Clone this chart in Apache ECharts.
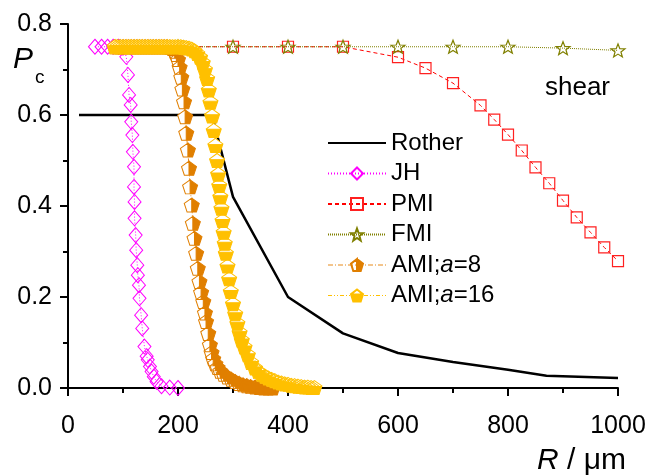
<!DOCTYPE html>
<html>
<head>
<meta charset="utf-8">
<script src="https://cdn.jsdelivr.net/npm/echarts@6/dist/echarts.min.js"></script>
<style>
  html, body { margin: 0; padding: 0; background: #fff; }
  #chart { width: 662px; height: 475px; }
</style>
</head>
<body>
<div id="chart"></div>
<script>
// [R (um), Pc]
const rother = [[20, 0.6], [260, 0.6], [265, 0.585], [300, 0.42], [400, 0.2], [500, 0.12],
  [600, 0.077], [700, 0.057], [800, 0.04], [870, 0.027], [1000, 0.022]]

const jh = [[49, 0.75], [61, 0.75], [72, 0.75], [82, 0.75], [92, 0.75], [100, 0.748], [106, 0.728],
  [109, 0.688], [111, 0.644], [114, 0.622], [115, 0.585], [117, 0.556], [118, 0.519], [120, 0.486],
  [120, 0.442], [121, 0.409], [121, 0.373], [123, 0.336], [124, 0.303], [126, 0.27], [127, 0.248],
  [129, 0.226], [130, 0.197], [133, 0.16], [135, 0.131], [139, 0.091], [143, 0.07], [145, 0.062],
  [149, 0.047], [152, 0.036], [156, 0.025], [161, 0.014], [170, 0.004], [185, 0.001], [200, 0]]

const pmi = [[200, 0.75], [300, 0.75], [400, 0.75], [500, 0.75], [600, 0.727], [650, 0.703],
  [700, 0.67], [750, 0.621], [775, 0.59], [800, 0.557], [825, 0.522], [850, 0.485], [875, 0.45],
  [900, 0.412], [925, 0.375], [950, 0.342], [975, 0.309], [1000, 0.279]]

const fmi = [[200, 0.75], [300, 0.75], [400, 0.75], [500, 0.75], [600, 0.75], [700, 0.75],
  [800, 0.75], [900, 0.747], [1000, 0.742]]

const ami8 = [[85, 0.75], [90, 0.75], [95, 0.75], [100, 0.75], [105, 0.75], [110, 0.75], [115, 0.75],
  [120, 0.75], [125, 0.75], [130, 0.75], [135, 0.75], [140, 0.75], [145, 0.75], [150, 0.75],
  [155, 0.75], [160, 0.75], [165, 0.75], [170, 0.75], [175, 0.75], [180, 0.75], [185, 0.749],
  [190, 0.746], [194, 0.74], [197, 0.733], [200, 0.722], [203, 0.705], [206, 0.683], [208, 0.657],
  [211, 0.629], [213, 0.596], [215, 0.56], [218, 0.523], [220, 0.483], [222, 0.442], [225, 0.402],
  [227, 0.362], [230, 0.329], [233, 0.296], [236, 0.263], [239, 0.234], [242, 0.21], [246, 0.19],
  [249, 0.165], [251, 0.146], [255, 0.12], [258, 0.095], [261, 0.078], [264, 0.064], [268, 0.053],
  [272, 0.045], [277, 0.037], [283, 0.03], [290, 0.024], [297, 0.019], [304, 0.014], [311, 0.01],
  [318, 0.007], [325, 0.005], [332, 0.003], [340, 0.002], [348, 0.001], [356, 0], [364, 0], [372, 0]]

const ami16 = [[85, 0.75], [90, 0.75], [95, 0.75], [100, 0.75], [105, 0.75], [110, 0.75], [115, 0.75],
  [120, 0.75], [125, 0.75], [130, 0.75], [135, 0.75], [140, 0.75], [145, 0.75], [150, 0.75],
  [155, 0.75], [160, 0.75], [165, 0.75], [170, 0.75], [175, 0.75], [180, 0.75], [185, 0.75],
  [190, 0.75], [195, 0.75], [200, 0.75], [205, 0.75], [210, 0.749], [215, 0.748], [220, 0.747],
  [225, 0.745], [230, 0.741], [235, 0.735], [240, 0.727], [245, 0.715], [249, 0.7], [253, 0.68],
  [256, 0.655], [259, 0.628], [262, 0.598], [265, 0.566], [268, 0.533], [271, 0.5], [273, 0.47],
  [275, 0.445], [277, 0.42], [279, 0.395], [281, 0.368], [283, 0.342], [285, 0.318], [287, 0.296],
  [290, 0.268], [293, 0.24], [296, 0.212], [300, 0.185], [304, 0.163], [308, 0.142], [312, 0.122],
  [316, 0.105], [321, 0.09], [327, 0.073], [333, 0.056], [340, 0.044], [346, 0.036], [352, 0.03],
  [358, 0.026], [364, 0.022], [370, 0.019], [376, 0.016], [382, 0.013], [388, 0.011], [394, 0.009],
  [400, 0.008], [406, 0.006], [412, 0.005], [418, 0.004], [424, 0.003], [430, 0.002], [436, 0.002],
  [442, 0.001], [448, 0.001]]

const font = 'Liberation Sans, Arial, sans-serif'

// marker shapes
const starPath = 'path://M10 0 L12.47 6.6 L19.51 6.91 L13.99 11.3 L15.88 18.09 L10 14.2 L4.12 18.09 L6.01 11.3 L0.49 6.91 L7.53 6.6 Z'
const pentPath = 'path://M10 0 L19.51 6.91 L15.88 18.09 L4.12 18.09 L0.49 6.91 Z'
// part-filled pentagons: the unfilled part is cut out by reverse winding
const pentRight = 'path://M10 0 L19.51 6.91 L15.88 18.09 L4.12 18.09 L0.49 6.91 Z M10 0 L0.49 6.91 L4.12 18.09 L10 18.09 Z'
const pentLower = 'path://M10 0 L19.51 6.91 L15.88 18.09 L4.12 18.09 L0.49 6.91 Z M10 0 L0.49 6.91 L0.68 7.6 L19.32 7.6 L19.51 6.91 Z'

const clear = 'rgba(0,0,0,0)'
const orange = '#e07f00'
const gold = '#ffc000'
const ami8Line = { color: '#e68a1a', width: 1, type: [5, 2, 1, 2] }
const ami16Line = { color: gold, width: 1, type: [4, 2, 1, 2, 1, 2] }
const pentSize = [15, 14]

const chart = echarts.init(document.getElementById('chart'))

chart.setOption({
  animation: false,
  backgroundColor: '#fff',
  textStyle: { fontFamily: font, color: '#000' },
  grid: { left: 68, right: 44, top: 24, bottom: 87 },
  xAxis: {
    type: 'value',
    min: 0,
    max: 1000,
    interval: 200,
    axisLine: { lineStyle: { color: '#000', width: 2 } },
    axisTick: { inside: false, length: 8, lineStyle: { color: '#000', width: 2 } },
    minorTick: { show: true, splitNumber: 2, length: 5, lineStyle: { color: '#000', width: 2 } },
    splitLine: { show: false },
    axisLabel: { color: '#000', fontSize: 25, fontFamily: font, margin: 26, formatter: v => String(v) }
  },
  yAxis: {
    type: 'value',
    min: 0,
    max: 0.8,
    interval: 0.2,
    axisLine: { show: true, lineStyle: { color: '#000', width: 2 } },
    axisTick: { show: true, inside: false, length: 8, lineStyle: { color: '#000', width: 2 } },
    minorTick: { show: true, splitNumber: 2, length: 5, lineStyle: { color: '#000', width: 2 } },
    splitLine: { show: false },
    axisLabel: {
      color: '#000', fontSize: 25, fontFamily: font, margin: 16,
      formatter: v => v.toFixed(1)
    }
  },
  legend: {
    orient: 'vertical',
    left: 322,
    top: 126,
    itemWidth: 58,
    itemHeight: 15,
    itemGap: 6.5,
    textStyle: {
      fontSize: 24, fontFamily: font, color: '#000',
      rich: { i: { fontStyle: 'italic', fontSize: 24, fontFamily: font } }
    },
    formatter: name => name.replace(';a', ';{i|a}'),
    data: [
      { name: 'Rother', itemStyle: { color: clear, borderColor: clear, borderWidth: 0 } },
      'JH', 'PMI', 'FMI',
      { name: 'AMI;a=8', lineStyle: Object.assign({ opacity: 1 }, ami8Line) },
      { name: 'AMI;a=16', lineStyle: Object.assign({ opacity: 1 }, ami16Line) }
    ]
  },
  graphic: [
    { type: 'text', x: 13, y: 60, style: { text: 'P', font: 'italic 30px ' + font, fill: '#000', verticalAlign: 'middle' } },
    { type: 'text', x: 35, y: 78, style: { text: 'c', font: '19px ' + font, fill: '#000', verticalAlign: 'middle' } },
    { type: 'text', x: 610, y: 88, style: { text: 'shear', font: '26px ' + font, fill: '#000', align: 'right', verticalAlign: 'middle' } },
    {
      type: 'text', x: 626, y: 461,
      style: {
        text: '{i|R} / μm', font: '30px ' + font, fill: '#000', align: 'right', verticalAlign: 'middle',
        rich: { i: { fontStyle: 'italic', fontSize: 30, fontFamily: font } }
      }
    }
  ],
  series: [
    {
      name: 'Rother', type: 'line', data: rother, symbol: 'none',
      lineStyle: { color: '#000', width: 2.5 }, itemStyle: { color: '#000' }
    },
    {
      name: 'JH', type: 'line', data: jh, symbol: 'diamond', symbolSize: [13, 15],
      lineStyle: { color: '#ff00ff', width: 1, type: [1, 2] },
      itemStyle: { color: clear, borderColor: '#ff00ff', borderWidth: 1 }
    },
    {
      name: 'PMI', type: 'line', data: pmi, symbol: 'rect', symbolSize: 11,
      lineStyle: { color: '#ff0000', width: 1, type: [4, 3] },
      itemStyle: { color: clear, borderColor: '#ff2020', borderWidth: 1.2 }
    },
    {
      name: 'FMI', type: 'line', data: fmi, symbol: starPath, symbolSize: [14, 13],
      lineStyle: { color: '#808000', width: 1, type: [1, 1] },
      itemStyle: { color: clear, borderColor: '#808000', borderWidth: 1.2 }
    },
    // white bodies + connecting line, then the part-filled outlines on top
    {
      name: 'AMI;a=8 base', type: 'line', data: ami8, symbol: pentPath, symbolSize: pentSize, silent: true,
      lineStyle: ami8Line, itemStyle: { color: '#fff', borderWidth: 0 }
    },
    {
      name: 'AMI;a=8', type: 'line', data: ami8, symbol: pentRight, symbolSize: pentSize,
      lineStyle: { opacity: 0 },
      itemStyle: { color: orange, borderColor: orange, borderWidth: 1 }
    },
    {
      name: 'AMI;a=16 base', type: 'line', data: ami16, symbol: pentPath, symbolSize: pentSize, silent: true,
      lineStyle: ami16Line, itemStyle: { color: '#fff', borderWidth: 0 }
    },
    {
      name: 'AMI;a=16', type: 'line', data: ami16, symbol: pentLower, symbolSize: pentSize,
      lineStyle: { opacity: 0 },
      itemStyle: { color: gold, borderColor: gold, borderWidth: 1 }
    }
  ]
})
</script>
</body>
</html>
